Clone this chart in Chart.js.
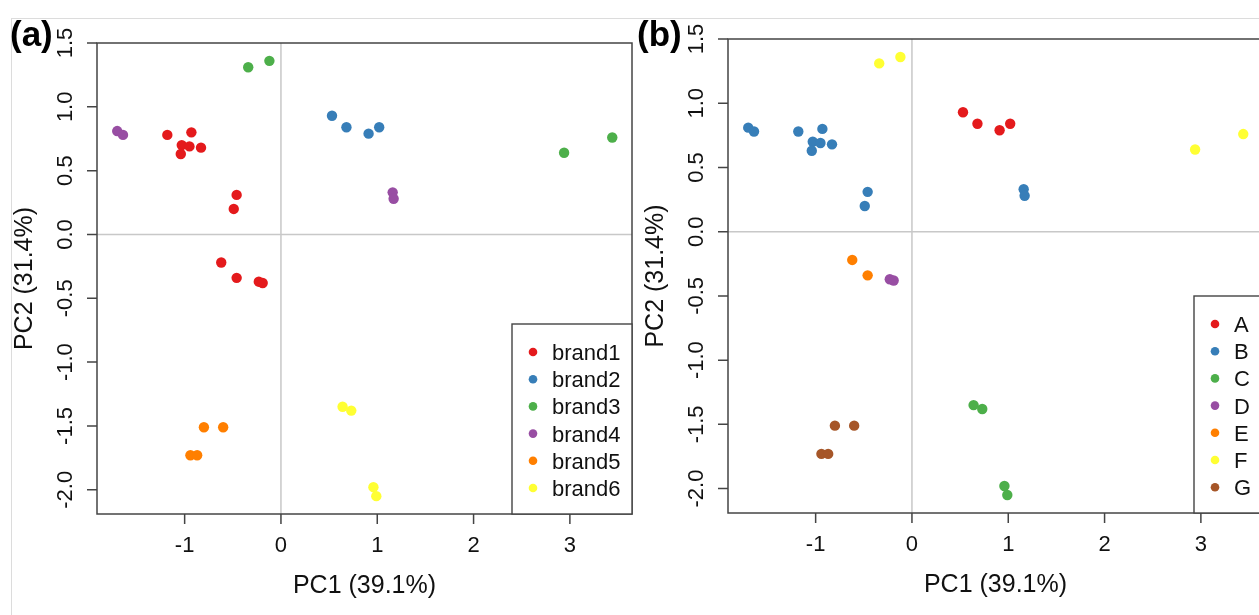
<!DOCTYPE html>
<html lang="en">
<head>
  <meta charset="UTF-8">
  <title>PCA score plots</title>
  <script src="https://cdn.jsdelivr.net/npm/chart.js"></script>
  <style>
    html, body {
      margin: 0;
      padding: 0;
      overflow: hidden;
      background: #ffffff;
      width: 1259px;
      height: 615px;
    }
    .frame {
      position: absolute;
      left: 11px;
      top: 18px;
      width: 1300px;
      height: 700px;
      border-top: 1px solid #dcdcdc;
      border-left: 1px solid #dcdcdc;
    }
    canvas { position: absolute; top: 0; }
    #chartA { left: 0; }
    #chartB { left: 634px; }
  </style>
</head>
<body>
  <div class="frame"></div>
  <canvas id="chartA" width="640" height="615"></canvas>
  <canvas id="chartB" width="640" height="615"></canvas>

  <script>
    // scores
    const pc1 = [-1.70, -1.64, -1.18, -0.93, -1.03, -0.95, -1.04, -0.83, -0.46, -0.49,
                 -0.62, -0.46, -0.23, -0.19, -0.34, -0.12, 2.94, 3.44, 0.53, 0.68,
                 0.91, 1.02, 1.16, 1.17, -0.80, -0.60, -0.94, -0.87, 0.64, 0.73,
                 0.96, 0.99];
    const pc2 = [0.81, 0.78, 0.78, 0.80, 0.70, 0.69, 0.63, 0.68, 0.31, 0.20,
                 -0.22, -0.34, -0.37, -0.38, 1.31, 1.36, 0.64, 0.76, 0.93, 0.84,
                 0.79, 0.84, 0.33, 0.28, -1.51, -1.51, -1.73, -1.73, -1.35, -1.38,
                 -1.98, -2.05];
    // brand index (panel a) and group index (panel b) of each sample
    const brandOf = [3, 3, 0, 0, 0, 0, 0, 0, 0, 0,
                     0, 0, 0, 0, 2, 2, 2, 2, 1, 1,
                     1, 1, 3, 3, 4, 4, 4, 4, 5, 5,
                     5, 5];
    const groupOf = [1, 1, 1, 1, 1, 1, 1, 1, 1, 1,
                     4, 4, 3, 3, 5, 5, 5, 5, 0, 0,
                     0, 0, 1, 1, 6, 6, 6, 6, 2, 2,
                     2, 2];

    const brands = ['brand1', 'brand2', 'brand3', 'brand4', 'brand5', 'brand6'];
    const groups = ['A', 'B', 'C', 'D', 'E', 'F', 'G'];

    const xTicks = [-1, 0, 1, 2, 3];
    const xTickLabels = ['-1', '0', '1', '2', '3'];
    const yTicks = [-2.0, -1.5, -1.0, -0.5, 0.0, 0.5, 1.0, 1.5];
    const yTickLabels = ['-2.0', '-1.5', '-1.0', '-0.5', '0.0', '0.5', '1.0', '1.5'];
    const xTitle = 'PC1 (39.1%)';
    const yTitle = 'PC2 (31.4%)';

    const set1 = ['#E41A1C', '#377EB8', '#4DAF4A', '#984EA3', '#FF7F00', '#FFFF33', '#A65628'];
    const FONT = "'Liberation Sans', Arial, sans-serif";

    // R base-graphics look: box, outside ticks, rotated y labels, zero lines, legend
    const rStyle = {
      id: 'rStyle',
      beforeDatasetsDraw(chart) {
        const { ctx, chartArea: a, scales: { x, y } } = chart;
        const x0 = x.getPixelForValue(0);
        const y0 = y.getPixelForValue(0);
        ctx.save();
        ctx.strokeStyle = '#c8c8c8';
        ctx.lineWidth = 1.5;
        ctx.beginPath();
        ctx.moveTo(x0, a.top); ctx.lineTo(x0, a.bottom);
        ctx.moveTo(a.left, y0); ctx.lineTo(a.right, y0);
        ctx.stroke();
        ctx.restore();
      },
      afterDraw(chart, args, opts) {
        const { ctx, chartArea: a, scales: { x, y } } = chart;
        ctx.save();
        ctx.strokeStyle = '#444';
        ctx.lineWidth = 1.5;
        ctx.strokeRect(a.left, a.top, a.right - a.left, a.bottom - a.top);

        // tick marks
        ctx.beginPath();
        xTicks.forEach(v => {
          const px = x.getPixelForValue(v);
          ctx.moveTo(px, a.bottom); ctx.lineTo(px, a.bottom + 10);
        });
        yTicks.forEach(v => {
          const py = y.getPixelForValue(v);
          ctx.moveTo(a.left, py); ctx.lineTo(a.left - 10, py);
        });
        ctx.stroke();

        // tick labels
        ctx.fillStyle = '#111';
        ctx.font = `22px ${FONT}`;
        ctx.textAlign = 'center';
        ctx.textBaseline = 'alphabetic';
        xTicks.forEach((v, i) => {
          ctx.fillText(xTickLabels[i], x.getPixelForValue(v), a.bottom + 38);
        });
        yTicks.forEach((v, i) => {
          ctx.save();
          ctx.translate(a.left - 25, y.getPixelForValue(v));
          ctx.rotate(-Math.PI / 2);
          ctx.fillText(yTickLabels[i], 0, 0);
          ctx.restore();
        });

        // axis titles
        ctx.font = `25px ${FONT}`;
        ctx.fillText(xTitle, (a.left + a.right) / 2, a.bottom + 79);
        ctx.save();
        ctx.translate(a.left - 65, (a.top + a.bottom) / 2);
        ctx.rotate(-Math.PI / 2);
        ctx.fillText(yTitle, 0, 0);
        ctx.restore();

        // panel tag
        ctx.font = `bold 35px ${FONT}`;
        ctx.textAlign = 'left';
        ctx.fillStyle = '#000';
        ctx.fillText(opts.tag, opts.tagX, 46);

        // legend, bottom right inside the box
        const lx = a.right - opts.legendW;
        const ly = a.bottom - opts.legendH;
        ctx.fillStyle = '#fff';
        ctx.fillRect(lx, ly, opts.legendW, opts.legendH);
        ctx.strokeStyle = '#444';
        ctx.lineWidth = 1.4;
        ctx.strokeRect(lx, ly, opts.legendW, opts.legendH);
        ctx.font = `22px ${FONT}`;
        opts.names.forEach((name, i) => {
          const cy = ly + opts.firstY + i * 27.2;
          ctx.fillStyle = set1[i];
          ctx.beginPath();
          ctx.arc(lx + 21, cy, 4.3, 0, Math.PI * 2);
          ctx.fill();
          ctx.fillStyle = '#111';
          ctx.fillText(name, lx + 40, cy + 8);
        });
        ctx.restore();
      }
    };

    const makeDatasets = (names, memberOf) => names.map((name, k) => ({
      label: name,
      data: pc1.map((v, i) => ({ x: v, y: pc2[i] })).filter((p, i) => memberOf[i] === k),
      backgroundColor: set1[k],
      borderWidth: 0,
      pointRadius: 5.2,
      pointHoverRadius: 5.2
    }));

    const makeChart = (id, names, memberOf, padding, pluginOpts) => new Chart(document.getElementById(id), {
      type: 'scatter',
      data: { datasets: makeDatasets(names, memberOf) },
      options: {
        responsive: false,
        animation: false,
        layout: { padding: padding },
        scales: {
          x: { type: 'linear', display: false, min: -1.91, max: 3.645 },
          y: { type: 'linear', display: false, min: -2.19, max: 1.5 }
        },
        plugins: {
          legend: { display: false },
          tooltip: { enabled: false },
          rStyle: pluginOpts
        }
      },
      plugins: [rStyle]
    });

    // panel a canvas is 640 wide but only its first 634 px hold anything
    makeChart('chartA', brands, brandOf,
      { left: 97, top: 43, right: 8, bottom: 101 },
      { tag: '(a)', tagX: 10, names: brands, legendW: 120, legendH: 190, firstY: 28 });

    makeChart('chartB', groups, groupOf,
      { left: 94, top: 39, right: 11, bottom: 102 },
      { tag: '(b)', tagX: 3, names: groups, legendW: 69, legendH: 217, firstY: 28 });
  </script>
</body>
</html>
